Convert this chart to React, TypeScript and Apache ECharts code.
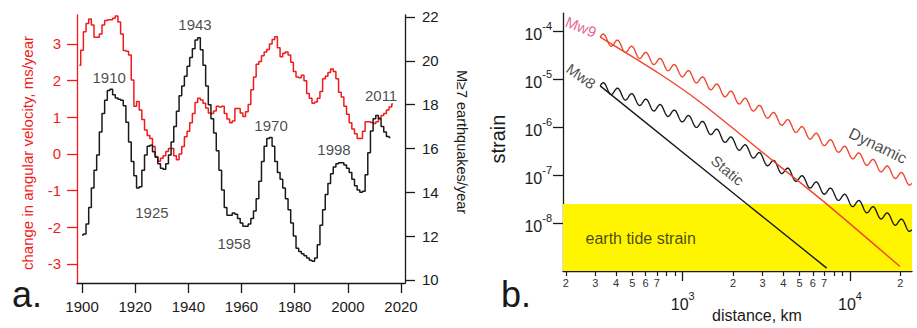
import React, { useEffect, useRef } from 'react';
import * as echarts from 'echarts';

const FONT = '"Liberation Sans", Arial, Helvetica, sans-serif';
const RED_A = '#f01c1c';
const RED_B = '#f0452b';
const PINK = '#e4387a';
const INK = '#1a1a1a';
const YELLOW = '#fff500';

// ---------- panel a ----------
const velocityStartYear = 1899;
const angularVelocityChange = [
  2.42,
  2.83, 3.33, 3.56, 3.68, 3.52, 3.18, 3.18, 3.27, 3.52, 3.64,
  3.66, 3.66, 3.70, 3.76, 3.60, 3.27, 2.82, 2.80, 2.70, 2.02,
  1.30, 1.43, 1.20, 0.94, 0.65, 0.50, 0.42, 0.20, -0.07, -0.20,
  -0.12, -0.05, 0.07, 0.15, 0.15, -0.05, -0.16, 0.00, 0.20, 0.47,
  0.62, 0.85, 1.10, 1.40, 1.52, 1.47, 1.38, 1.25, 1.12, 1.10,
  1.17, 1.30, 1.28, 1.30, 1.10, 0.95, 0.85, 0.90, 1.24, 1.24,
  1.12, 1.02, 1.15, 1.35, 1.75, 2.10, 2.45, 2.52, 2.68, 2.78,
  2.85, 3.00, 3.12, 3.20, 2.90, 2.65, 2.75, 2.78, 2.70, 2.50,
  2.25, 2.10, 2.08, 2.15, 2.00, 1.65, 1.52, 1.38, 1.42, 1.52,
  1.70, 2.05, 2.12, 2.22, 2.32, 2.25, 2.05, 1.68, 1.55, 1.30,
  1.08, 0.85, 0.68, 0.55, 0.42, 0.42, 0.62, 0.88, 0.88, 0.86,
  0.83, 0.88, 0.98, 1.05, 1.10, 1.20, 1.28, 1.36,
];
const quakeStartYear = 1900;
const quakesPerYear = [
  12.05, 12.10, 12.55, 13.30, 14.20, 15.00, 15.70, 16.75, 17.60, 18.20,
  18.65, 18.70, 18.45, 18.30, 18.25, 18.20, 17.95, 17.20, 16.30, 15.40,
  14.75, 14.20, 14.25, 15.00, 15.70, 16.10, 16.15, 15.85, 15.60, 15.30,
  15.10, 15.05, 15.30, 15.70, 16.30, 17.00, 17.70, 18.40, 18.85, 19.30,
  19.75, 20.15, 20.55, 20.95, 21.05, 20.50, 19.80, 18.85, 18.00, 17.35,
  16.70, 15.90, 15.00, 14.10, 13.30, 12.95, 12.95, 13.05, 13.00, 12.80,
  12.60, 12.45, 12.45, 12.55, 12.80, 13.15, 13.70, 14.50, 15.40, 16.10,
  16.45, 16.50, 16.10, 15.40, 14.90, 14.60, 14.20, 13.70, 13.20, 12.60,
  12.00, 11.45, 11.30, 11.20, 11.10, 11.00, 10.90, 10.85, 11.00, 11.60,
  12.50, 13.20, 13.90, 14.40, 14.85, 15.15, 15.30, 15.35, 15.35, 15.25,
  15.10, 14.90, 14.60, 14.30, 14.10, 14.00, 14.05, 14.80, 15.80, 16.80,
  17.35, 17.50, 17.35, 17.00, 16.75, 16.55, 16.50,
];
const yearTicks = [1900, 1920, 1940, 1960, 1980, 2000, 2020];
const velocityTicks = [-3, -2, -1, 0, 1, 2, 3];
const quakeTicks = [10, 12, 14, 16, 18, 20, 22];
const peakNames = ['1910', '1943', '1925', '1958', '1970', '1998', '2011'];
const peakNameYears = [1910.2, 1942.5, 1926.3, 1957.2, 1971.1, 1994.8, 2012.5];
const peakNameRates = [19.26, 21.64, 13.1, 11.64, 17.07, 15.95, 18.4];

// ---------- panel b ----------
const DIST_MIN = 192.5;
const DIST_MAX = 23480;
const STRAIN_MIN = 1e-9;
const STRAIN_MAX = 2.4e-4;
const minorDistanceTicks = [200, 300, 400, 500, 600, 700, 800, 900, 2000, 3000, 4000, 5000, 6000, 7000, 8000, 9000, 20000];
const labelledDistanceTicks = [200, 300, 400, 500, 600, 700, 2000, 3000, 4000, 5000, 6000, 7000, 20000];
const decadeTicks = [1000, 10000];
const strainTicks = [1e-8, 1e-7, 1e-6, 1e-5, 1e-4];
const tideStrainTop = 2.5e-8;

const mw9StaticDistance = [321, 731, 1268, 3483, 7260, 19900];
const mw9StaticStrain = [7.6e-5, 1.29e-5, 3.36e-6, 1.96e-7, 2.49e-8, 1.24e-9];
const mw8StaticDistance = [321, 2523, 7260];
const mw8StaticStrain = [7.3e-6, 2.22e-8, 1.15e-9];
const mw9DynamicDistance = [321, 1268, 5035, 23400];
const mw9DynamicStrain = [7.6e-5, 9.7e-6, 8.7e-7, 7.3e-8];
const mw8DynamicDistance = [321, 1268, 5035, 23400];
const mw8DynamicStrain = [7.3e-6, 1.15e-6, 8.2e-8, 7.9e-9];

const WAVE_AMP = 4.5;
const WAVE_LEN = 14.2;

const zip = (a: number[], b: number[]) => a.map((v, i) => [v, b[i]]);
const yearly = (start: number, vals: number[]) => vals.map((v, i) => [start + i, v]);

const wavyRenderer = (pts: number[][], color: string) => (params: any, api: any) => {
  const i = params.dataIndex;
  if (i >= pts.length - 1) return null;
  const start = api.coord(pts[0]);
  const a = api.coord(pts[i]);
  const b = api.coord(pts[i + 1]);
  const n = Math.max(2, Math.ceil(Math.abs(b[0] - a[0]) / 0.5));
  const points: number[][] = [];
  for (let k = 0; k <= n; k++) {
    const t = k / n;
    const x = a[0] + (b[0] - a[0]) * t;
    const yl = a[1] + (b[1] - a[1]) * t;
    points.push([x, yl - WAVE_AMP * Math.sin((2 * Math.PI * (x - start[0])) / WAVE_LEN)]);
  }
  return {
    type: 'polyline',
    shape: { points },
    style: { stroke: color, lineWidth: 1.35, fill: null },
  };
};

const supLabel = (v: number) => `{b|10}{s|${Math.round(Math.log10(v))}}`;
const supRich = {
  b: { fontSize: 16, fontFamily: FONT, color: INK, lineHeight: 22, verticalAlign: 'bottom' },
  s: { fontSize: 11, fontFamily: FONT, color: INK, verticalAlign: 'top' },
};

const redDyn = zip(mw9DynamicDistance, mw9DynamicStrain);
const blackDyn = zip(mw8DynamicDistance, mw8DynamicStrain);

const option: any = {
  animation: false,
  textStyle: { fontFamily: FONT },
  grid: [
    { left: 77, top: 15, width: 328, height: 268 },
    { left: 563, top: 13.2, width: 349, height: 261.4 },
  ],
  xAxis: [
    {
      type: 'value', gridIndex: 0, min: 1898.1, max: 2021.5,
      axisLine: { onZero: false, lineStyle: { color: INK, width: 1.3 } },
      axisTick: { customValues: yearTicks, length: 10, lineStyle: { color: INK, width: 1.3 } },
      axisLabel: { customValues: yearTicks, fontSize: 15, color: INK, margin: 16, formatter: (v: number) => String(v) },
      splitLine: { show: false },
    },
    {
      type: 'log', gridIndex: 1, position: 'bottom', min: DIST_MIN, max: DIST_MAX,
      axisLine: { onZero: false, lineStyle: { color: INK, width: 1.3 } },
      axisTick: { customValues: minorDistanceTicks, length: 5, lineStyle: { color: INK, width: 1.2 } },
      axisLabel: {
        customValues: labelledDistanceTicks, fontSize: 11, color: '#333', margin: 6,
        formatter: (v: number) => String(Math.round(v / Math.pow(10, Math.floor(Math.log10(v) + 1e-9)))),
      },
      splitLine: { show: false },
      name: 'distance, km', nameLocation: 'middle', nameGap: 36,
      nameTextStyle: { fontSize: 16, color: INK, padding: [0, 0, 0, 39] },
    },
    {
      type: 'log', gridIndex: 1, position: 'bottom', min: DIST_MIN, max: DIST_MAX,
      axisLine: { show: false, onZero: false },
      axisTick: { customValues: decadeTicks, length: 10, lineStyle: { color: INK, width: 1.3 } },
      axisLabel: { customValues: decadeTicks, margin: 19, formatter: supLabel, rich: supRich },
      splitLine: { show: false },
    },
  ],
  yAxis: [
    {
      type: 'value', gridIndex: 0, position: 'left', min: -3.52, max: 3.79,
      axisLine: { show: true, onZero: false, lineStyle: { color: RED_A, width: 1.3 } },
      axisTick: { show: true, customValues: velocityTicks, length: 10, lineStyle: { color: RED_A, width: 1.3 } },
      axisLabel: { customValues: velocityTicks, fontSize: 15, color: RED_A, margin: 16 },
      splitLine: { show: false },
      name: 'change in angular velocity, ms/year', nameLocation: 'middle', nameRotate: 90, nameGap: 42,
      nameTextStyle: { fontSize: 15, color: RED_A, padding: [0, 8, 0, 0] },
    },
    {
      type: 'value', gridIndex: 0, position: 'right', min: 9.86, max: 22.09,
      axisLine: { show: true, onZero: false, lineStyle: { color: INK, width: 1.3 } },
      axisTick: { show: true, customValues: quakeTicks, length: 10, lineStyle: { color: INK, width: 1.3 } },
      axisLabel: { customValues: quakeTicks, fontSize: 15, color: INK, margin: 17 },
      splitLine: { show: false },
      name: 'M≥7 earthquakes/year', nameLocation: 'middle', nameRotate: -90, nameGap: 49,
      nameTextStyle: { fontSize: 14.5, color: INK, padding: [0, 14, 0, 0] },
    },
    {
      type: 'log', gridIndex: 1, position: 'left', min: STRAIN_MIN, max: STRAIN_MAX,
      axisLine: { show: true, onZero: false, lineStyle: { color: INK, width: 1.3 } },
      axisTick: { show: true, customValues: strainTicks, length: 10, lineStyle: { color: INK, width: 1.3 } },
      axisLabel: { customValues: strainTicks, margin: 11, formatter: supLabel, rich: supRich },
      splitLine: { show: false },
      name: 'strain', nameLocation: 'middle', nameRotate: 90, nameGap: 55,
      nameTextStyle: { fontSize: 20, color: INK, padding: [0, 0, 0, 6] },
    },
  ],
  series: [
    {
      type: 'line', name: 'angular velocity', xAxisIndex: 0, yAxisIndex: 0, step: 'middle',
      data: yearly(velocityStartYear, angularVelocityChange), showSymbol: false,
      lineStyle: { color: RED_A, width: 1.5 }, z: 3,
    },
    {
      type: 'line', name: 'M7 rate', xAxisIndex: 0, yAxisIndex: 1, step: 'middle',
      data: yearly(quakeStartYear, quakesPerYear), showSymbol: false,
      lineStyle: { color: INK, width: 1.5 }, z: 4,
    },
    {
      type: 'scatter', xAxisIndex: 0, yAxisIndex: 1, symbolSize: 1, silent: true,
      itemStyle: { color: 'transparent' },
      label: { show: true, position: 'inside', formatter: '{b}', fontSize: 15, color: INK },
      data: peakNames.map((n, i) => ({ name: n, value: [peakNameYears[i], peakNameRates[i]] })),
      z: 5,
    },
    {
      type: 'custom', xAxisIndex: 1, yAxisIndex: 2, silent: true, z: 1,
      data: [[DIST_MIN, STRAIN_MIN, DIST_MAX, tideStrainTop]],
      encode: { x: [0, 2], y: [1, 3] },
      renderItem: (params: any, api: any) => {
        const p0 = api.coord([api.value(0), api.value(1)]);
        const p1 = api.coord([api.value(2), api.value(3)]);
        return {
          type: 'rect',
          shape: { x: p0[0], y: p1[1], width: p1[0] - p0[0], height: p0[1] - p1[1] },
          style: { fill: YELLOW },
        };
      },
    },
    {
      type: 'line', name: 'Mw9 static', xAxisIndex: 1, yAxisIndex: 2, smooth: 0.3,
      data: zip(mw9StaticDistance, mw9StaticStrain), showSymbol: false,
      lineStyle: { color: RED_B, width: 1.4 }, z: 3,
    },
    {
      type: 'line', name: 'Mw8 static', xAxisIndex: 1, yAxisIndex: 2,
      data: zip(mw8StaticDistance, mw8StaticStrain), showSymbol: false,
      lineStyle: { color: INK, width: 1.4 }, z: 3,
    },
    {
      type: 'custom', name: 'Mw9 dynamic', xAxisIndex: 1, yAxisIndex: 2, silent: true, z: 3,
      data: redDyn, encode: { x: 0, y: 1 },
      renderItem: wavyRenderer(redDyn, RED_B),
    },
    {
      type: 'custom', name: 'Mw8 dynamic', xAxisIndex: 1, yAxisIndex: 2, silent: true, z: 3,
      data: blackDyn, encode: { x: 0, y: 1 },
      renderItem: wavyRenderer(blackDyn, INK),
    },
    {
      type: 'scatter', xAxisIndex: 1, yAxisIndex: 2, symbolSize: 1, silent: true,
      itemStyle: { color: 'transparent' }, z: 5,
      label: { show: true, position: 'inside', formatter: '{b}', fontSize: 15, color: INK },
      data: [
        { name: 'Mw9', value: [246.6, 1.25e-4], label: { color: PINK, rotate: -22, fontSize: 15 } },
        { name: 'Mw8', value: [247, 1.17e-5], label: { rotate: -36, fontSize: 15 } },
        { name: 'Dynamic', value: [14690, 4.13e-7], label: { rotate: -26, fontSize: 16 } },
        { name: 'Static', value: [1854, 1.26e-7], label: { rotate: -40, fontSize: 15 } },
        { name: 'earth tide strain', value: [260.6, 4.68e-9], label: { position: 'right', distance: 0, fontSize: 16 } },
      ],
    },
  ],
  graphic: [
    { type: 'text', left: 12, top: 276, style: { text: 'a.', fontSize: 36, fontFamily: FONT, fill: INK } },
    { type: 'text', left: 501, top: 276, style: { text: 'b.', fontSize: 36, fontFamily: FONT, fill: INK } },
  ],
};

export default function App() {
  const ref = useRef<HTMLDivElement>(null);
  useEffect(() => {
    const chart = echarts.init(ref.current as HTMLDivElement, null, { renderer: 'svg' });
    chart.setOption(option);
    return () => chart.dispose();
  }, []);
  return (
    <div
      ref={ref}
      style={{ position: 'fixed', left: 0, top: 0, width: 917, height: 328, background: '#fff' }}
    />
  );
}
